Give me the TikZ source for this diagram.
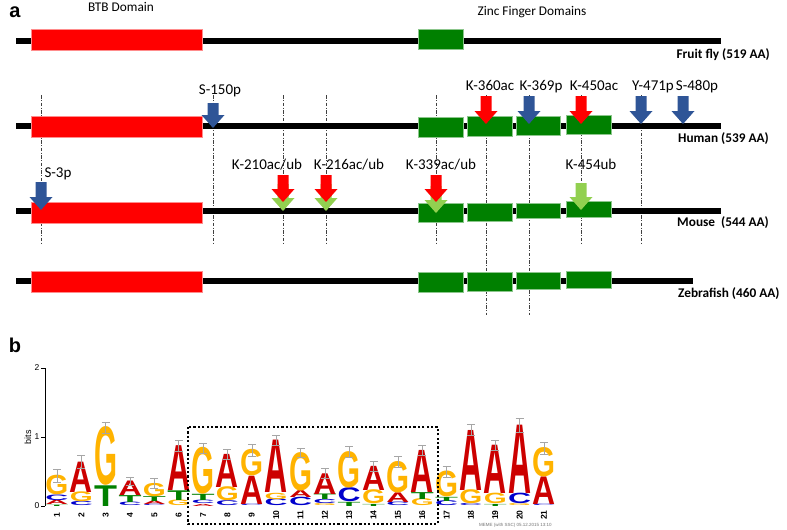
\documentclass[tikz,border=0pt]{standalone}
\usepackage{fontspec}
\usepackage{graphicx}
\setmainfont{Carlito}
\newfontfamily\arialf{Liberation Sans}
\definecolor{boxred}{RGB}{255,0,0}
\definecolor{boxgreen}{RGB}{0,128,0}
\definecolor{arrblue}{RGB}{47,85,151}
\definecolor{arrlgreen}{RGB}{146,208,80}
\definecolor{logoA}{RGB}{204,0,0}
\definecolor{logoC}{RGB}{0,0,204}
\definecolor{logoG}{RGB}{255,179,0}
\definecolor{logoT}{RGB}{0,128,0}
\newcounter{lgc}
\newcommand\bararrow[4]{\fill[#4] (#1-5.5,#2) -- (#1+5.5,#2) -- (#1+5.5,#3-13) -- (#1+11.5,#3-13) -- (#1,#3) -- (#1-11.5,#3-13) -- (#1-5.5,#3-13) -- cycle;}
\newcommand\logocol[1]{\pgfmathsetmacro\cxx{57+(#1-1)*24.35}\xdef\cx{\cxx}\xdef\cb{0}%
  \node[colnum] (n#1) at (\cx,515) {#1};}
\newcommand\lt[2]{%
  \pgfmathsetmacro\yb{506-69*\cb}\pgfmathsetmacro\hh{69*#2}\stepcounter{lgc}%
  \node[anchor=south,inner sep=0pt,outer sep=0pt] (lg\arabic{lgc}) at (\cx,\yb) {\resizebox{23pt}{\hh pt}{\color{logo#1}\arialf\bfseries #1}};%
  \pgfmathsetmacro\nb{\cb+#2}\xdef\cb{\nb}}
\newcommand\errbar[1]{%
  \pgfmathsetmacro\ya{506-69*\cb}\pgfmathsetmacro\yt{506-69*#1}\pgfmathsetmacro\ylo{2*\ya-\yt}%
  \draw[ebar] (\cx,\ylo) -- (\cx,\yt) (\cx-4,\yt) -- (\cx+4,\yt) (\cx-4,\ylo) -- (\cx+4,\ylo);}
\tikzset{
  vline/.style={line width=0.6pt, draw=black!75, dash pattern=on 3.5pt off 1.5pt on 1pt off 1.5pt},
  protline/.style={line width=5.5pt, draw=black},
  redbox/.style={fill=boxred, draw=boxred!45!white, line width=0.6pt},
  grnbox/.style={fill=boxgreen, draw=boxgreen!45!white, line width=0.6pt},
  lbl/.style={anchor=base, inner sep=0pt, font=\fontsize{15}{18}\selectfont},
  hdr/.style={anchor=base, inner sep=0pt, font=\fontsize{13.3}{16}\selectfont},
  spc/.style={anchor=base east, inner sep=0pt, font=\fontsize{13.3}{16}\selectfont\bfseries},
  panel/.style={inner sep=0pt, font=\fontsize{20}{24}\selectfont\arialf\bfseries},
  colnum/.style={rotate=90, inner sep=0pt, font=\fontsize{8.5}{9}\selectfont\arialf\bfseries},
  ebar/.style={draw=black!35, line width=0.6pt},
}
\begin{document}
\begin{tikzpicture}[x=1pt,y=-1pt]
\path[use as bounding box] (0,0) rectangle (787,530);
% ---------- panel a ----------
\node[panel] (pa) at (15,12) {a};
\node[hdr] (btb) at (121,12) {BTB Domain};
\node[hdr] (znf) at (532,15) {Zinc Finger Domains};
% vertical dash-dot guide lines
\foreach \x in {41,213,283,326,436,581,641} \draw[vline] (\x,95) -- (\x,243);
\foreach \x in {486,529} \draw[vline] (\x,95) -- (\x,315);
% protein lines
\coordinate (fs) at (16,41); \coordinate (fe) at (721,41);
\coordinate (hs) at (16,126); \coordinate (he) at (721,126);
\coordinate (ms) at (16,211); \coordinate (me) at (721,211);
\coordinate (zs) at (16,281); \coordinate (ze) at (693,281);
\draw[protline] (fs) -- (fe);
\draw[protline] (hs) -- (he);
\draw[protline] (ms) -- (me);
\draw[protline] (zs) -- (ze);
% fruit fly
\draw[redbox] (31,29) rectangle (202,50);
\draw[grnbox] (418,29) rectangle (463,49);
% human
\draw[redbox] (31,116) rectangle (202,137);
\draw[grnbox] (418,117) rectangle (463,137);
\draw[grnbox] (467,116) rectangle (512,136);
\draw[grnbox] (516,116) rectangle (560,135);
\draw[grnbox] (566,115) rectangle (611,134);
% mouse
\draw[redbox] (31,202) rectangle (202,223);
\draw[grnbox] (418,203) rectangle (463,222);
\draw[grnbox] (467,203) rectangle (512,221);
\draw[grnbox] (516,203) rectangle (560,218);
\draw[grnbox] (566,201) rectangle (611,217);
% zebrafish
\draw[redbox] (31,271) rectangle (202,292);
\draw[grnbox] (418,272) rectangle (463,292);
\draw[grnbox] (467,272) rectangle (512,291);
\draw[grnbox] (516,272) rectangle (560,289);
\draw[grnbox] (566,271) rectangle (611,288);
% human arrows
\bararrow{213}{103}{128}{arrblue}
\bararrow{486}{96}{124}{boxred}
\bararrow{529}{96}{124}{arrblue}
\bararrow{581}{96}{124}{boxred}
\bararrow{641}{96}{124}{arrblue}
\bararrow{683}{96}{124}{arrblue}
% mouse arrows
\bararrow{41}{182}{210}{arrblue}
\bararrow{283}{184}{211}{arrlgreen}
\bararrow{283}{175}{202}{boxred}
\bararrow{326}{184}{211}{arrlgreen}
\bararrow{326}{175}{202}{boxred}
\bararrow{436}{186}{213}{arrlgreen}
\bararrow{436}{175}{202}{boxred}
\bararrow{581}{183}{210}{arrlgreen}
% labels
\node[lbl] (t150) at (220,94) {S-150p};
\node[lbl] (t360) at (490,90) {K-360ac};
\node[lbl] (t369) at (541,90) {K-369p};
\node[lbl] (t450) at (594,90) {K-450ac};
\node[lbl] (t471) at (653,90) {Y-471p};
\node[lbl] (t480) at (697,90) {S-480p};
\node[lbl] (t3) at (58,177) {S-3p};
\node[lbl] (t210) at (267,169) {K-210ac/ub};
\node[lbl] (t216) at (349,169) {K-216ac/ub};
\node[lbl] (t339) at (441,169) {K-339ac/ub};
\node[lbl] (t454) at (591,169) {K-454ub};
\node[spc] (sf) at (770,58) {Fruit fly (519 AA)};
\node[spc] (sh) at (769,142) {Human (539 AA)};
\node[spc] (sm) at (769,226) {Mouse\ \ (544 AA)};
\node[spc, anchor=base west] (sz) at (678,297) {Zebrafish (460 AA)};
% ---------- panel b ----------
\node[panel] (pb) at (15,345) {b};
\draw[line width=0.8pt] (45,368) -- (45,506);
\foreach \yy/\lab in {368/2,437/1,506/0} {
  \draw[line width=0.8pt] (41,\yy) -- (45,\yy);
  \node[anchor=east, inner sep=0pt, font=\fontsize{8.5}{9}\selectfont\arialf] (ax\lab) at (39.5,\yy) {\lab};
}
\node[rotate=90, inner sep=0pt, font=\fontsize{9}{10}\selectfont\arialf] (bits) at (28,437) {bits};
% logo
\logocol{1}\lt{T}{.02}\lt{A}{.06}\lt{C}{.08}\lt{G}{.28}\errbar{.53}
\logocol{2}\lt{C}{.06}\lt{G}{.14}\lt{A}{.44}\errbar{.74}
\logocol{3}\lt{T}{.30}\lt{G}{.84}\errbar{1.22}
\logocol{4}\lt{C}{.05}\lt{T}{.10}\lt{A}{.21}\errbar{.42}
\logocol{5}\lt{C}{.02}\lt{A}{.05}\lt{T}{.07}\lt{G}{.19}\errbar{.40}
\logocol{6}\lt{G}{.08}\lt{T}{.14}\lt{A}{.65}\errbar{.95}
\logocol{7}\lt{A}{.03}\lt{C}{.05}\lt{T}{.09}\lt{G}{.67}\errbar{.91}
\logocol{8}\lt{C}{.07}\lt{G}{.20}\lt{A}{.48}\errbar{.82}
\logocol{9}\lt{C}{.02}\lt{A}{.41}\lt{G}{.38}\errbar{.90}
\logocol{10}\lt{C}{.10}\lt{G}{.09}\lt{A}{.76}\errbar{1.02}
\logocol{11}\lt{C}{.12}\lt{A}{.10}\lt{G}{.55}\errbar{.83}
\logocol{12}\lt{G}{.03}\lt{C}{.06}\lt{T}{.08}\lt{A}{.30}\errbar{.54}
\logocol{13}\lt{T}{.06}\lt{C}{.20}\lt{G}{.52}\errbar{.86}
\logocol{14}\lt{T}{.03}\lt{G}{.20}\lt{A}{.35}\errbar{.65}
\logocol{15}\lt{C}{.05}\lt{A}{.14}\lt{G}{.45}\errbar{.72}
\logocol{16}\lt{G}{.10}\lt{T}{.10}\lt{A}{.61}\errbar{.88}
\logocol{17}\lt{C}{.07}\lt{T}{.06}\lt{G}{.37}\errbar{.58}
\logocol{18}\lt{C}{.03}\lt{G}{.20}\lt{A}{.87}\errbar{1.18}
\logocol{19}\lt{T}{.03}\lt{G}{.15}\lt{A}{.70}\errbar{.95}
\logocol{20}\lt{G}{.03}\lt{C}{.15}\lt{A}{.99}\errbar{1.27}
\logocol{21}\lt{C}{.02}\lt{A}{.40}\lt{G}{.42}\errbar{.93}
% dotted motif box
\draw[line width=2.2pt, dash pattern=on 2.2pt off 2.2pt] (188,427) rectangle (438,524);
\node[anchor=base west, inner sep=0pt, text=black!55, font=\fontsize{4.5}{5}\selectfont\arialf] (meme) at (479,526) {MEME (with SSC) 05.12.2015 13:10};
\end{tikzpicture}
\end{document}
